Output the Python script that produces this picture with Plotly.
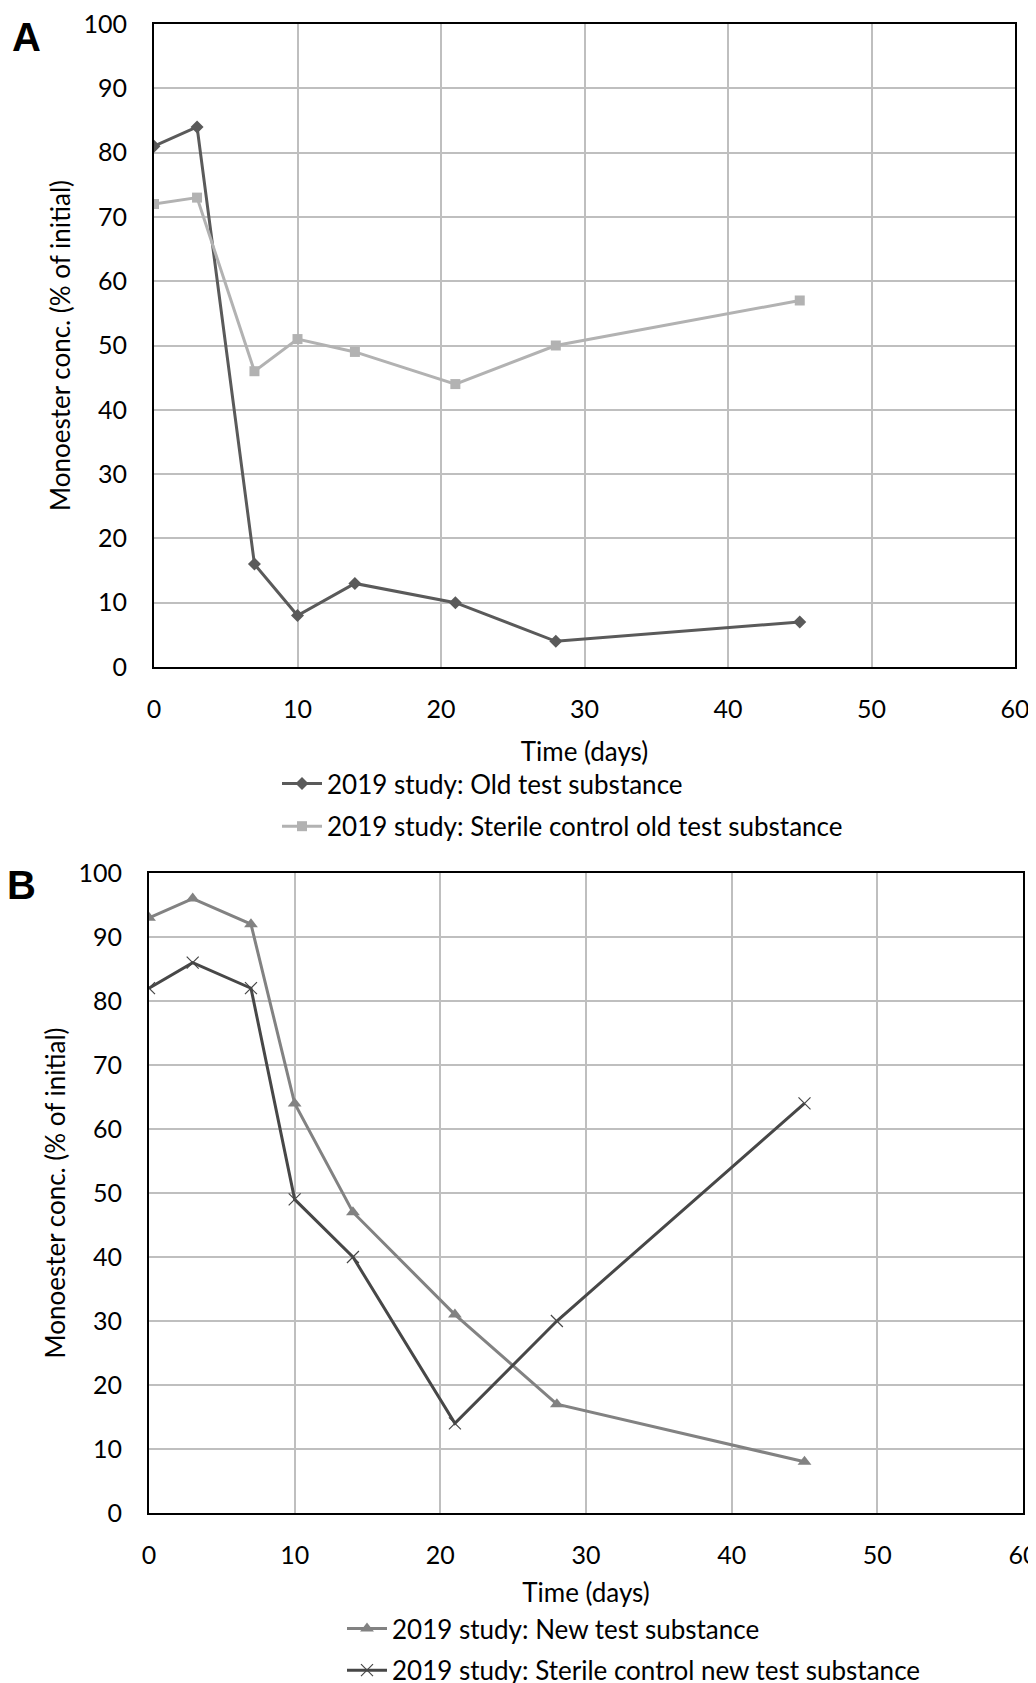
import plotly.graph_objects as go

days = [0, 3, 7, 10, 14, 21, 28, 45]
old_test = [81, 84, 16, 8, 13, 10, 4, 7]
sterile_old = [72, 73, 46, 51, 49, 44, 50, 57]
new_test = [93, 96, 92, 64, 47, 31, 17, 8]
sterile_new = [82, 86, 82, 49, 40, 14, 30, 64]

x_ticks = [0, 10, 20, 30, 40, 50, 60]
y_ticks = [0, 10, 20, 30, 40, 50, 60, 70, 80, 90, 100]

# page body has an 8px margin, so the figure is drawn 8px in from the corner
OFF = 8
W, H = 1036 - OFF, 1683 - OFF
FONT = "Lato"
FS = 25
FS_T = 26

def px(v):
    return (v - OFF) / W

def py(v):
    return 1 - (v - OFF) / H

fig = go.Figure()

fig.add_trace(go.Scatter(x=days, y=old_test, mode="lines+markers",
                         name="2019 study: Old test substance",
                         line=dict(color="#5a5a5a", width=3),
                         marker=dict(symbol="diamond", size=10, color="#5a5a5a"),
                         xaxis="x", yaxis="y", legend="legend", legendgroup="a1"))
fig.add_trace(go.Scatter(x=days, y=sterile_old, mode="lines+markers",
                         name="2019 study: Sterile control old test substance",
                         line=dict(color="#b2b2b2", width=3),
                         marker=dict(symbol="square", size=10, color="#b2b2b2"),
                         xaxis="x", yaxis="y", legend="legend", legendgroup="a2"))
fig.add_trace(go.Scatter(x=days, y=new_test, mode="lines+markers",
                         name="2019 study: New test substance",
                         line=dict(color="#828282", width=3),
                         marker=dict(symbol="triangle-up", size=12, color="#828282"),
                         xaxis="x2", yaxis="y2", legend="legend2", legendgroup="b1"))
fig.add_trace(go.Scatter(x=days, y=sterile_new, mode="lines+markers",
                         name="2019 study: Sterile control new test substance",
                         line=dict(color="#474747", width=3),
                         marker=dict(symbol="x-thin", size=12, color="#474747",
                                     line=dict(color="#474747", width=1.2)),
                         xaxis="x2", yaxis="y2", legend="legend2", legendgroup="b2"))

tickfont = dict(family=FONT, size=FS, color="black")
titlefont = dict(family=FONT, size=FS_T, color="black")

def xax(domain, anchor, standoff):
    return dict(domain=domain, anchor=anchor, range=[0, 60], tickvals=x_ticks,
                showgrid=True, gridcolor="#bfbfbf", gridwidth=1.5,
                showline=True, linecolor="black", linewidth=2, mirror=True,
                ticks="", ticklabelstandoff=19, tickfont=tickfont,
                ticklabeloverflow="allow",
                zeroline=False, automargin=False,
                title=dict(text="Time (days)", font=titlefont, standoff=standoff))

def yax(domain, anchor):
    return dict(domain=domain, anchor=anchor, range=[0, 100], tickvals=y_ticks,
                showgrid=True, gridcolor="#bfbfbf", gridwidth=1.5,
                showline=True, linecolor="black", linewidth=2, mirror=True,
                ticks="", ticklabelstandoff=20, tickfont=tickfont,
                ticklabeloverflow="allow",
                zeroline=False, automargin=False,
                title=dict(text="Monoester conc. (% of initial)", font=titlefont, standoff=5))

fig.update_layout(
    width=W, height=H,
    margin=dict(l=0, r=0, t=0, b=0, autoexpand=False),
    paper_bgcolor="white", plot_bgcolor="white",
    font=dict(family=FONT, color="black"),
    xaxis=xax([px(154), px(1015)], "y", 21),
    yaxis=yax([py(667), py(24)], "x"),
    xaxis2=xax([px(149), px(1023)], "y2", 16),
    yaxis2=yax([py(1513), py(873)], "x2"),
    legend=dict(x=px(277), y=py(760), xanchor="left", yanchor="top",
                font=dict(family=FONT, size=FS_T, color="black"),
                bgcolor="rgba(0,0,0,0)", tracegroupgap=6, itemwidth=40),
    legend2=dict(x=px(342), y=py(1605), xanchor="left", yanchor="top",
                 font=dict(family=FONT, size=FS_T, color="black"),
                 bgcolor="rgba(0,0,0,0)", tracegroupgap=5, itemwidth=40),
    showlegend=True,
    annotations=[
        dict(text="<b>A</b>", x=px(10), y=py(13), xref="paper", yref="paper",
             xanchor="left", yanchor="top", showarrow=False,
             font=dict(family="Liberation Sans", size=40, color="black")),
        dict(text="<b>B</b>", x=px(5), y=py(861), xref="paper", yref="paper",
             xanchor="left", yanchor="top", showarrow=False,
             font=dict(family="Liberation Sans", size=40, color="black")),
    ],
)

fig.write_html("out.html")
